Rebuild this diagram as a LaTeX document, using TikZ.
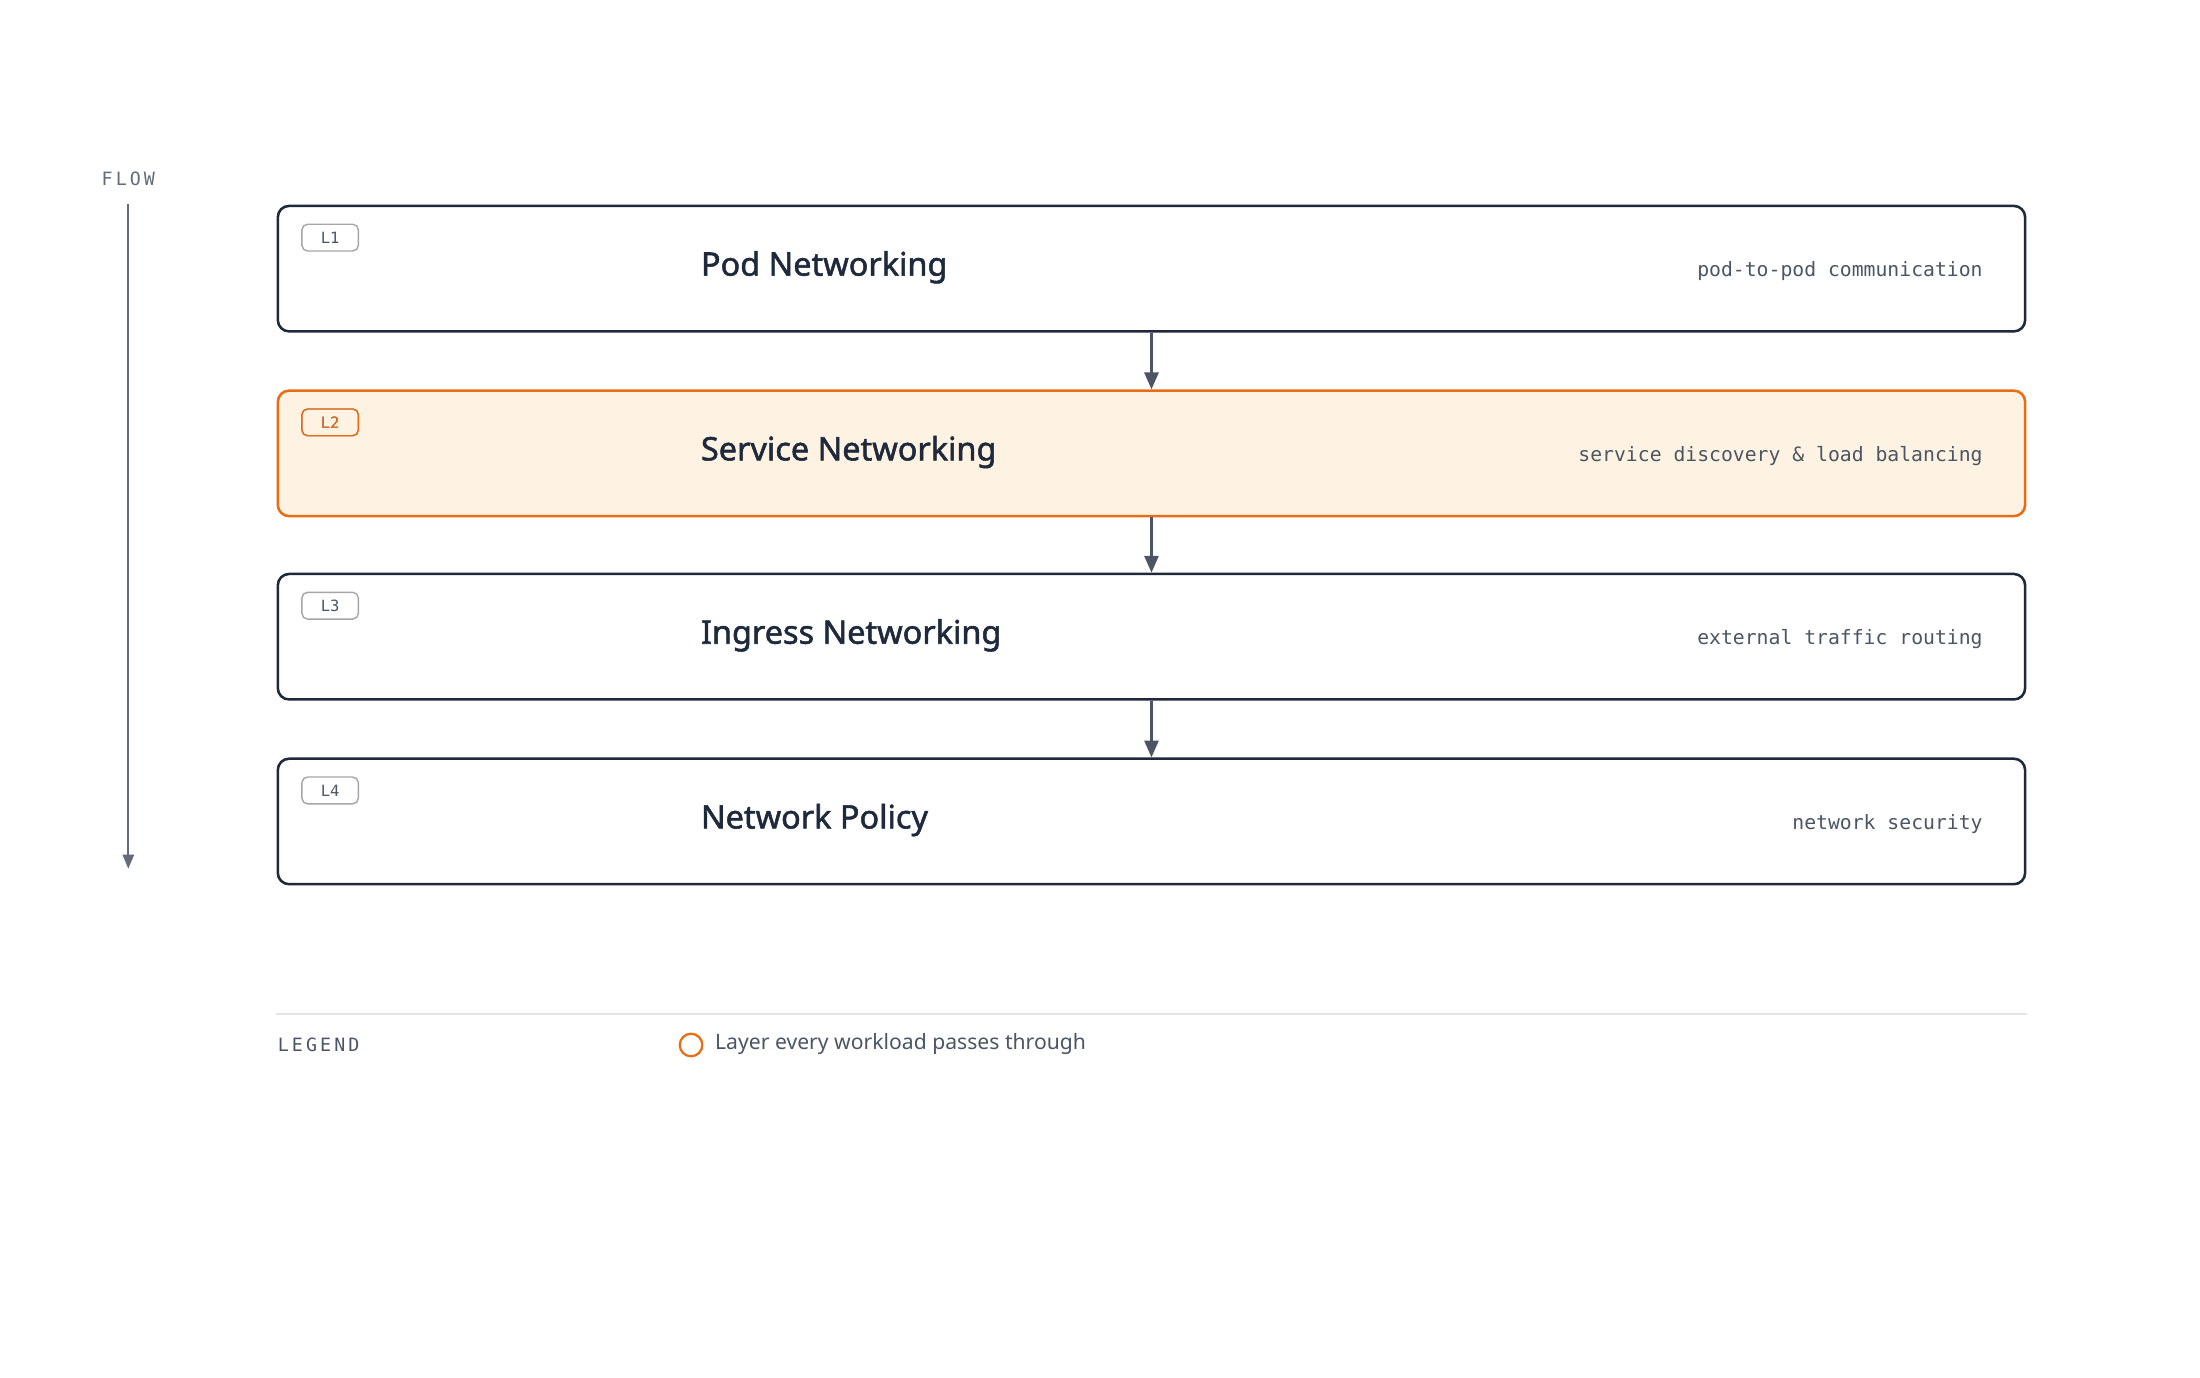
\documentclass[tikz,border=0pt]{standalone}
\usepackage{fontspec}
\setmainfont{Noto Sans}
\setmonofont{DejaVu Sans Mono}
\newfontfamily\titlefont{Noto Sans}[FakeBold=1.6]
\usetikzlibrary{positioning,arrows.meta}
\definecolor{ink}{RGB}{30,41,59}
\definecolor{arr}{RGB}{75,85,99}
\definecolor{hot}{RGB}{234,108,20}
\definecolor{hotfill}{RGB}{254,243,226}
\definecolor{muted}{RGB}{100,108,120}
\tikzset{
  layer/.style={draw=ink, line width=0.9pt, rounded corners=4pt, minimum width=619.5pt, minimum height=44.5pt, fill=white},
  hotlayer/.style={layer, draw=hot, fill=hotfill},
  title/.style={anchor=west, font=\fontsize{11.5}{13}\titlefont, text=ink},
  desc/.style={anchor=east, font=\fontsize{7}{8}\ttfamily, text=arr},
  badge/.style={draw=gray!70, rounded corners=2pt, line width=0.5pt, minimum width=20pt, minimum height=9.5pt, inner sep=0pt, font=\fontsize{5.5}{6}\ttfamily, text=arr},
  layerarrow/.style={-{Triangle[length=6pt,width=5pt]}, draw=arr, line width=0.9pt}
}
\begin{document}
\begin{tikzpicture}[x=0.5pt,y=-0.5pt]
\useasboundingbox (0,0) rectangle (1560,977);
% layers
\node[layer] (pod) at (816.5,190.5) {};
\node[hotlayer] (svc) at (816.5,321.5) {};
\node[layer] (ing) at (816.5,451.5) {};
\node[layer] (pol) at (816.5,582.5) {};
\foreach \n/\l/\t/\d in {pod/L1/Pod Networking/pod-to-pod communication,
                         svc/L2/Service Networking/service discovery \& load balancing,
                         ing/L3/Ingress Networking/external traffic routing,
                         pol/L4/Network Policy/network security}{
  \node[title] (\n-title) at ([xshift=-163.25pt,yshift=0.5pt]\n.center) {\t};
  \node[desc] (\n-desc) at ([xshift=-12pt,yshift=-1pt]\n.east) {\d};
  \node[badge] (\n-badge) at ([xshift=19pt,yshift=11pt]\n.west) {\l};
}
\node[badge, draw=hot, text=hot] at (svc-badge) {L2};
% connectors
\draw[layerarrow] (pod.south) -- (svc.north);
\draw[layerarrow] (svc.south) -- (ing.north);
\draw[layerarrow] (ing.south) -- (pol.north);
% flow
\node[font=\fontsize{6.5}{7}\ttfamily, text=muted] (flow) at (91,127) {F\,L\,O\,W};
\coordinate (flowend) at (91,616);
\draw[-{Triangle[length=5pt,width=4pt]}, draw=muted, line width=0.7pt] (91,145) -- (flowend);
% legend
\draw[gray!20, line width=0.6pt] (196,719) -- (1437,719);
\node[anchor=west, font=\fontsize{6.5}{7}\ttfamily, text=arr] (legend) at (190,741) {L\,E\,G\,E\,N\,D};
\node[circle, draw=hot, line width=0.8pt, minimum size=8pt, inner sep=0pt] (dot) at (490,741) {};
\node[anchor=west, font=\fontsize{7.5}{9}\selectfont, text=arr] (legtext) at (500,740) {Layer every workload passes through};
\end{tikzpicture}
\end{document}
